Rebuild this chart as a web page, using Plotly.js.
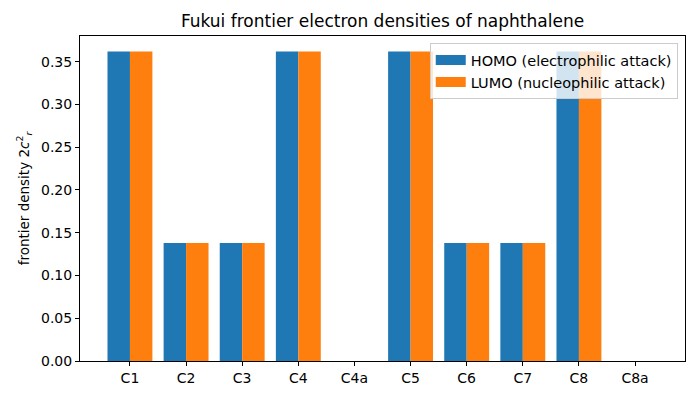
<!DOCTYPE html>
<html>
<head>
<meta charset="utf-8">
<script src="https://cdn.plot.ly/plotly-3.0.1.min.js"></script>
<style>
  html, body { margin: 0; padding: 0; background: white; }
  #chart { width: 700px; height: 400px; }
</style>
</head>
<body>
<div id="chart"></div>
<script>
const atoms = ['C1', 'C2', 'C3', 'C4', 'C4a', 'C5', 'C6', 'C7', 'C8', 'C8a'];
const homoDensity = [0.362, 0.138, 0.138, 0.362, 0, 0.362, 0.138, 0.138, 0.362, 0];
const lumoDensity = [0.362, 0.138, 0.138, 0.362, 0, 0.362, 0.138, 0.138, 0.362, 0];
const yTicks = [0, 0.05, 0.10, 0.15, 0.20, 0.25, 0.30, 0.35];
const seriesNames = ['HOMO (electrophilic attack)', 'LUMO (nucleophilic attack)'];
const seriesColors = ['#1f77b4', '#ff7f0e'];

function drawChart() {
    const chart = document.getElementById('chart');
    const values = [homoDensity, lumoDensity];
    const data = [];
    // the bars themselves, legend entries are drawn by the line traces below
    values.forEach((vals, i) => {
        data.push({
            x: atoms,
            y: vals,
            type: 'bar',
            name: seriesNames[i],
            showlegend: false,
            marker: { color: seriesColors[i] },
        });
    });
    // wide rectangular legend swatches like matplotlib's
    values.forEach((vals, i) => {
        data.push({
            x: [null],
            y: [null],
            type: 'scatter',
            mode: 'lines',
            name: seriesNames[i],
            line: { color: seriesColors[i], width: 10 },
            hoverinfo: 'skip',
        });
    });
    const axisStyle = {
        showline: true,
        mirror: true,
        linecolor: 'black',
        linewidth: 1,
        ticks: 'outside',
        ticklen: 4,
        tickcolor: 'black',
        showgrid: false,
        zeroline: false,
        tickfont: { size: 14, color: 'black' },
    };
    const layout = {
        width: 700,
        height: 400,
        font: { family: 'DejaVu Sans, sans-serif', color: 'black' },
        title: {
            text: 'Fukui frontier electron densities of naphthalene',
            font: { size: 17 },
            x: 0.5,
            xref: 'paper',
            xanchor: 'center',
            y: 0.963,
            yref: 'container',
            yanchor: 'top',
        },
        barmode: 'group',
        bargap: 0.2,
        bargroupgap: 0,
        xaxis: Object.assign({}, axisStyle, {
            type: 'category',
            range: [-0.89, 9.89],
        }),
        yaxis: Object.assign({}, axisStyle, {
            range: [0, 0.38],
            tickvals: yTicks,
            ticktext: yTicks.map(v => v.toFixed(2)),
            title: {
                text: 'frontier density 2<i>c</i><sup>2</sup><sub><i>r</i></sub>',
                font: { size: 13.5 },
                standoff: 8,
            },
        }),
        legend: {
            x: 0.988,
            y: 0.978,
            xanchor: 'right',
            yanchor: 'top',
            bgcolor: 'rgba(255,255,255,0.8)',
            bordercolor: '#cccccc',
            borderwidth: 1,
            font: { size: 14.5 },
            itemwidth: 30,
            tracegroupgap: 0,
        },
        showlegend: true,
        paper_bgcolor: 'white',
        plot_bgcolor: 'white',
        margin: { l: 80, r: 15, t: 36, b: 39, pad: 0 },
    };
    Plotly.newPlot(chart, data, layout, { displayModeBar: false });
}
drawChart();
</script>
</body>
</html>
